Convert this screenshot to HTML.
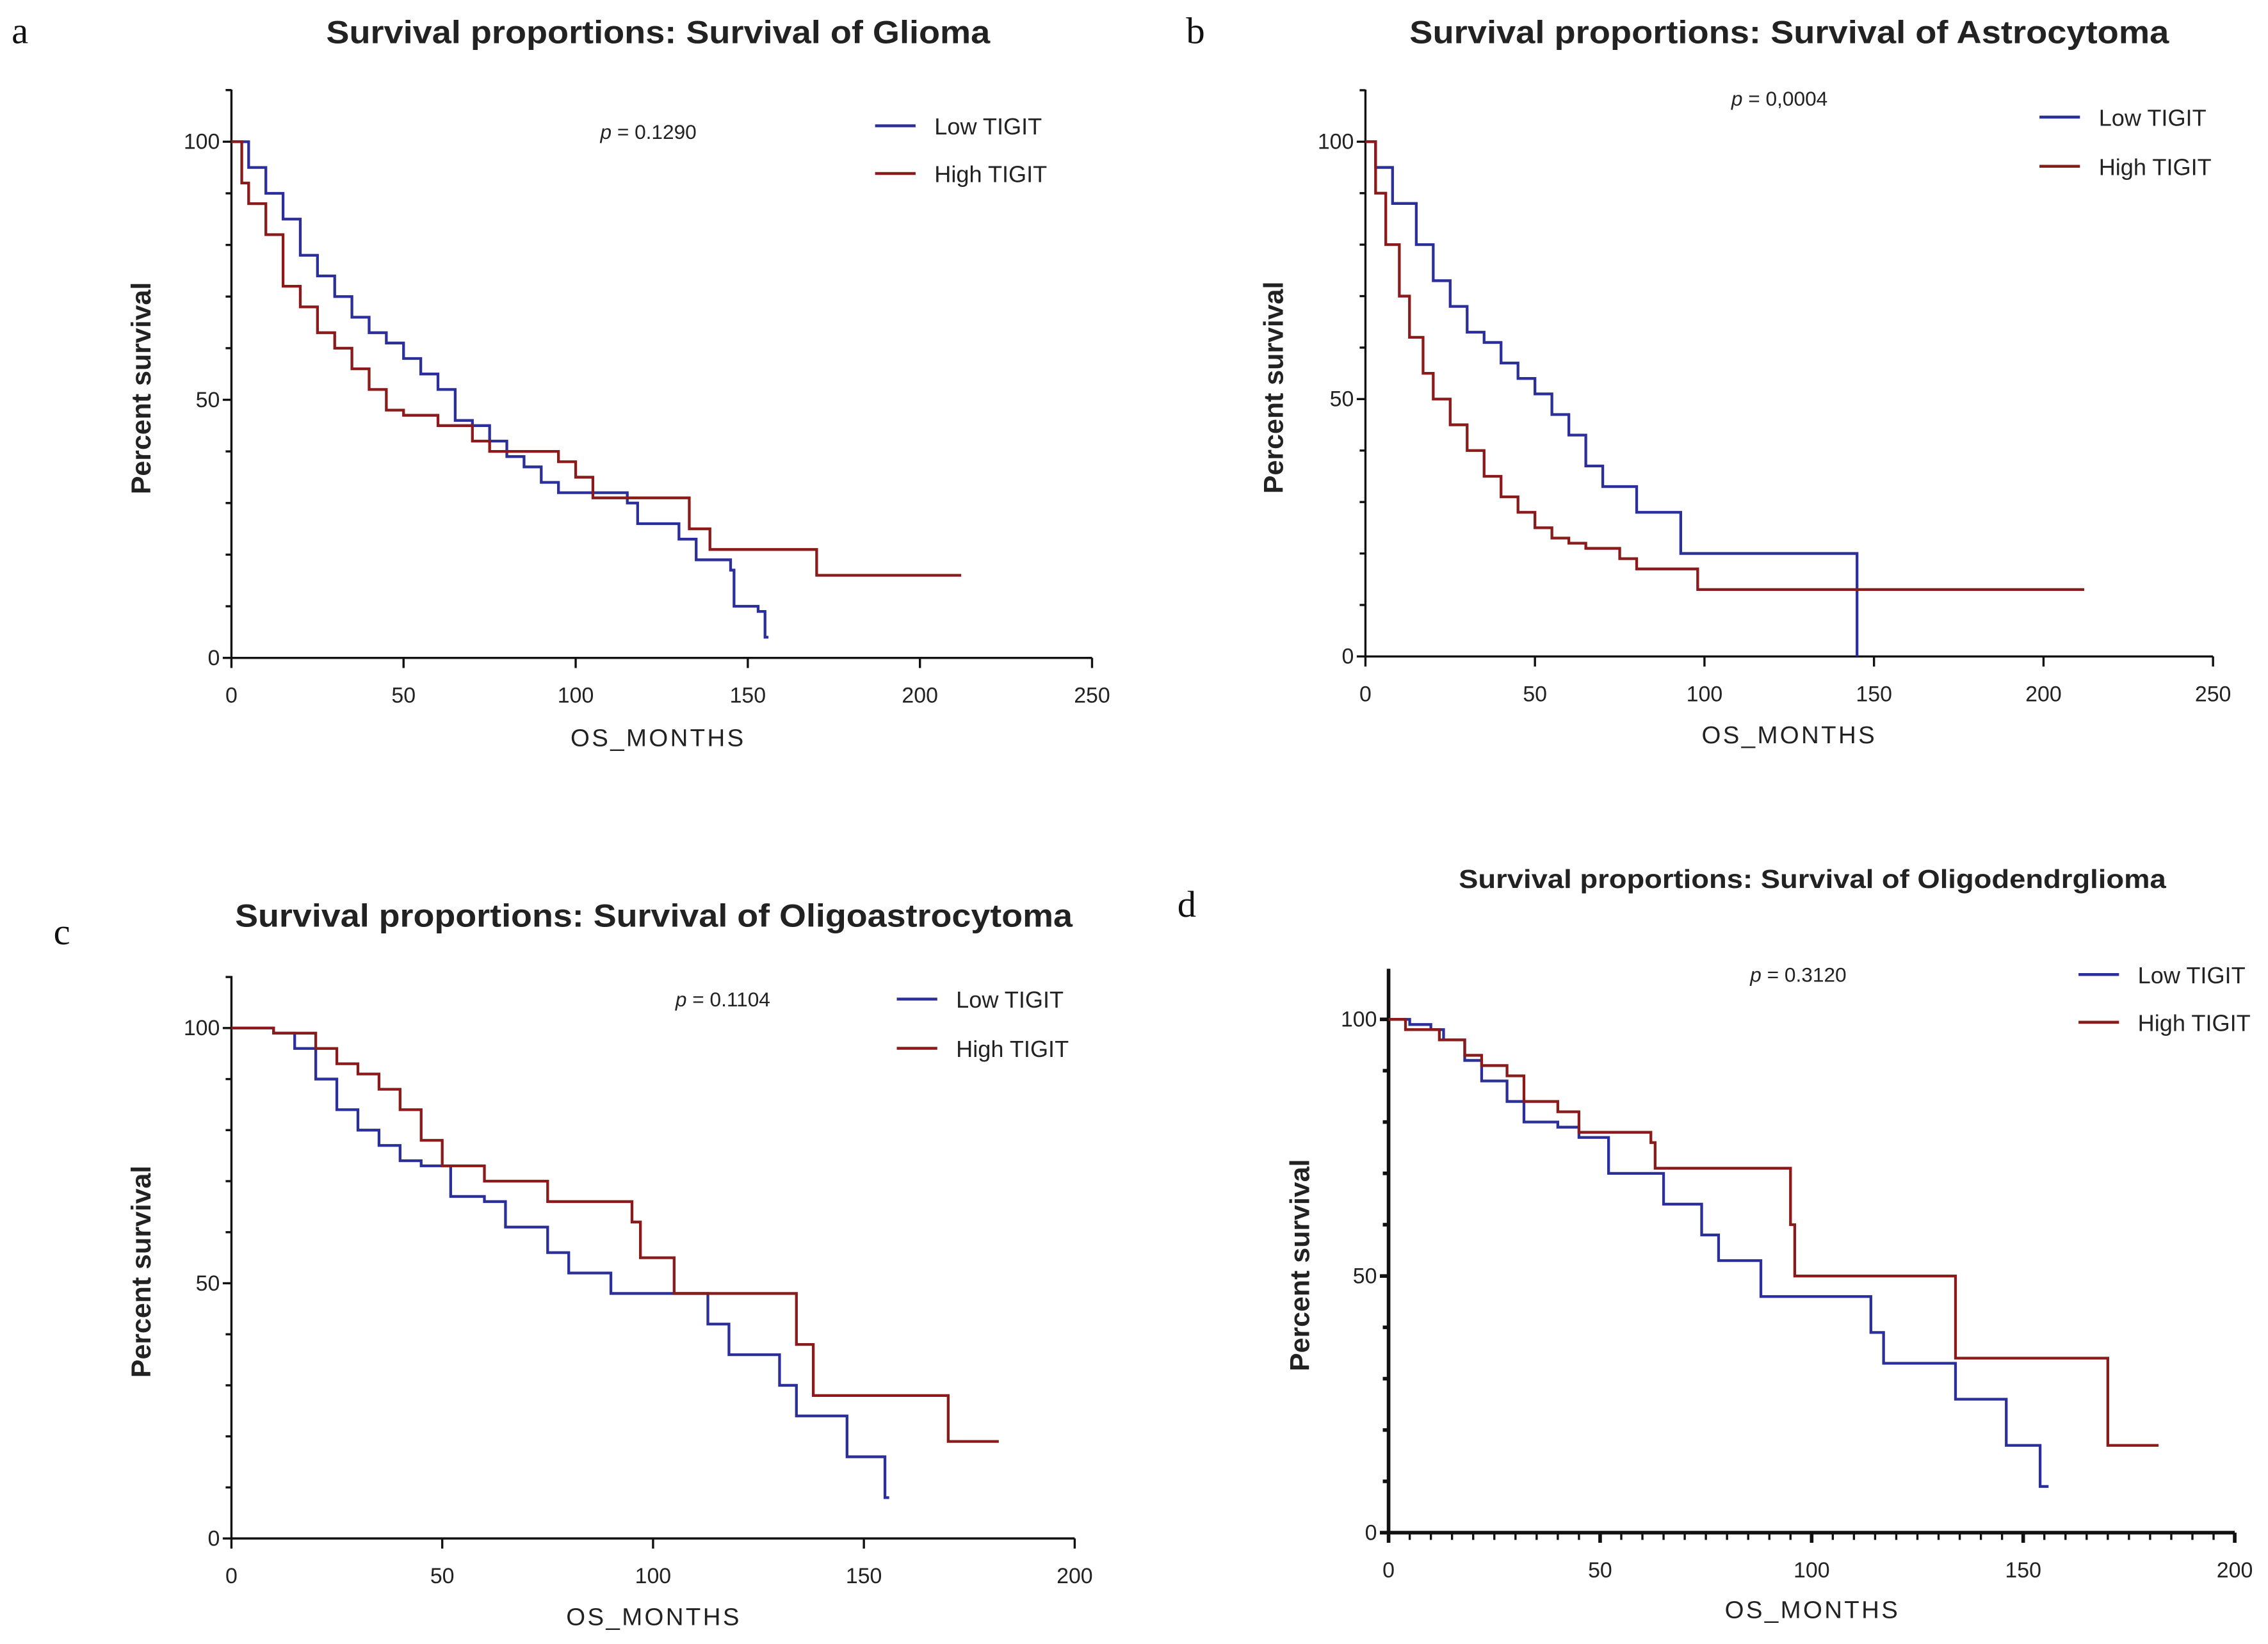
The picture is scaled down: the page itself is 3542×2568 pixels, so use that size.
<!DOCTYPE html>
<html><head><meta charset="utf-8"><style>
html,body{margin:0;padding:0;background:#fff}
svg{display:block}
</style></head><body>
<svg id="fig" width="3542" height="2568" viewBox="0 0 1568 1137" preserveAspectRatio="none" xmlns="http://www.w3.org/2000/svg"></svg>
<script>
// ---- data ----
const panelA_low = [[0,100],[5,95],[10,90],[15,85],[20,78],[25,74],[30,70],[35,66],[40,63],[45,61],[50,58],[55,55],[60,52],[65,46],[70,45],[75,42],[80,39],[85,37],[90,34],[95,32],[115,30],[118,26],[130,23],[135,19],[145,17],[146,10],[153,9],[155,4],[156,4]];
const panelA_high = [[0,100],[3,92],[5,88],[10,82],[15,72],[20,68],[25,63],[30,60],[35,56],[40,52],[45,48],[50,47],[60,45],[70,42],[75,40],[95,38],[100,35],[105,31],[133,25],[139,21],[170,16],[212,16]];
const panelB_low = [[0,100],[3,95],[8,88],[15,80],[20,73],[25,68],[30,63],[35,61],[40,57],[45,54],[50,51],[55,47],[60,43],[65,37],[70,33],[80,28],[93,20],[145,0],[145,0]];
const panelB_high = [[0,100],[3,90],[6,80],[10,70],[13,62],[17,55],[20,50],[25,45],[30,40],[35,35],[40,31],[45,28],[50,25],[55,23],[60,22],[65,21],[75,19],[80,17],[98,13],[212,13]];
const panelC_low = [[0,100],[10,99],[15,96],[20,90],[25,84],[30,80],[35,77],[40,74],[45,73],[52,67],[60,66],[65,61],[75,56],[80,52],[90,48],[113,42],[118,36],[130,30],[134,24],[146,16],[155,8],[156,8]];
const panelC_high = [[0,100],[10,99],[20,96],[25,93],[30,91],[35,88],[40,84],[45,78],[50,73],[60,70],[75,66],[95,62],[97,55],[105,48],[134,38],[138,28],[170,19],[182,19]];
const panelD_low = [[0,100],[5,99],[10,98],[13,96],[18,92],[22,88],[28,84],[32,80],[40,79],[45,77],[52,70],[65,64],[74,58],[78,53],[88,46],[114,39],[117,33],[134,26],[146,17],[154,9],[156,9]];
const panelD_high = [[0,100],[4,98],[12,96],[18,93],[22,91],[28,89],[32,84],[40,82],[45,78],[62,76],[63,71],[95,60],[96,50],[134,34],[170,17],[182,17]];
const xTicks250 = [0,50,100,150,200,250];
const xTicks200 = [0,50,100,150,200];
const yTicks = [0,50,100];
const titles = ["Survival proportions: Survival of Glioma","Survival proportions: Survival of Astrocytoma","Survival proportions: Survival of Oligoastrocytoma","Survival proportions: Survival of Oligodendrglioma"];
const pvals = ["0.1290","0,0004","0.1104","0.3120"];
const legendLabels = ["Low TIGIT","High TIGIT"];

const NS="http://www.w3.org/2000/svg";
const svg=document.getElementById('fig');
function mk(tag,attrs,parent){const e=document.createElementNS(NS,tag);for(const k in attrs)e.setAttribute(k,attrs[k]);(parent||svg).appendChild(e);return e;}

const panels=[
 {id:'a',x0:160,x1:755,y0:455,y100:98,top:62,xmax:250,xt:xTicks250,low:panelA_low,high:panelA_high,tx:455,ty:30,ts:22,tw:459,lx:8,ly:30,legx:605,leg1:87,leg2:120,px:415,py:96,xlx:455,xly:516,ylx:104,aw:1.5,minorX:false},
 {id:'b',x0:944,x1:1530,y0:454,y100:98,top:62,xmax:250,xt:xTicks250,low:panelB_low,high:panelB_high,tx:1237,ty:30,ts:22,tw:525,lx:820,ly:30,legx:1410,leg1:81,leg2:115,px:1197,py:73,xlx:1237,xly:514,ylx:887,aw:1.5,minorX:false},
 {id:'c',x0:160,x1:743,y0:1064,y100:711,top:675,xmax:200,xt:xTicks200,low:panelC_low,high:panelC_high,tx:452,ty:641,ts:22,tw:579,lx:37,ly:653,legx:620,leg1:691,leg2:725,px:467,py:696,xlx:452,xly:1124,ylx:104,aw:1.5,minorX:false},
 {id:'d',x0:960,x1:1545,y0:1060,y100:705,top:670,xmax:200,xt:xTicks200,low:panelD_low,high:panelD_high,tx:1253,ty:614,ts:18,tw:489,lx:814,ly:634,legx:1437,leg1:674,leg2:707,px:1210,py:679,xlx:1253,xly:1119,ylx:905,aw:2.5,minorX:true}
];

panels.forEach((p,i)=>{
 const g=mk('g',{});
 
 
 const X=v=>p.x0+(p.x1-p.x0)*v/p.xmax;
 const Y=v=>p.y0+(p.y100-p.y0)*v/100;
 const lt=mk('text',{x:p.lx,y:p.ly,'font-family':'Liberation Serif, serif','font-size':26,fill:'#111'},g);lt.textContent=p.id;
 
 const t=mk('text',{x:p.tx-p.tw/2,y:p.ty,textLength:p.tw,lengthAdjust:'spacingAndGlyphs','font-family':'Liberation Sans, sans-serif','font-weight':'bold','font-size':p.ts,fill:'#222'},g);t.textContent=titles[i];
 
 const ya=mk('line',{x1:p.x0,y1:p.y0,x2:p.x0,y2:p.top,stroke:'#111','stroke-width':p.aw},g);
 
 const xa=mk('line',{x1:p.x0,y1:p.y0,x2:p.x1,y2:p.y0,stroke:'#111','stroke-width':p.aw},g);
 
 for(let v=0;v<=110;v+=10){const yy=Y(v);if(yy<p.top)break;const major=yTicks.includes(v);mk('line',{x1:p.x0-(major?6:4),y1:yy,x2:p.x0,y2:yy,stroke:'#111','stroke-width':p.aw},g);}
 yTicks.forEach(v=>{const e=mk('text',{x:p.x0-8,y:Y(v)+5,'text-anchor':'end','font-family':'Liberation Sans, sans-serif','font-size':15,fill:'#222'},g);e.textContent=v;
  });
 if(p.minorX){for(let v=0;v<=p.xmax;v+=5)mk('line',{x1:X(v),y1:p.y0,x2:X(v),y2:p.y0+5,stroke:'#111','stroke-width':1.5},g);}
 p.xt.forEach(v=>{mk('line',{x1:X(v),y1:p.y0,x2:X(v),y2:p.y0+7,stroke:'#111','stroke-width':p.aw},g);
  const e=mk('text',{x:X(v),y:p.y0+31,'text-anchor':'middle','font-family':'Liberation Sans, sans-serif','font-size':15,fill:'#222'},g);e.textContent=v;
  });
 const xl=mk('text',{x:p.xlx,y:p.xly,'text-anchor':'middle','font-family':'Liberation Sans, sans-serif','font-size':17,'letter-spacing':'1.5',fill:'#222'},g);xl.textContent='OS_MONTHS';
 
 const ym=(p.y0+p.top)/2+10;
 const yl=mk('text',{x:p.ylx,y:ym,'text-anchor':'middle','font-family':'Liberation Sans, sans-serif','font-weight':'bold','font-size':19,fill:'#222',transform:`rotate(-90 ${p.ylx} ${ym})`},g);yl.textContent='Percent survival';
 
 [[p.low,'#2b2f9a','low'],[p.high,'#8b1a1a','high']].forEach(([d,c,nm])=>{
  let s=`M${X(d[0][0])},${Y(d[0][1])}`;
  for(let k=1;k<d.length;k++){s+=` H${X(d[k][0])} V${Y(d[k][1])}`;}
  const pa=mk('path',{d:s,fill:'none',stroke:c,'stroke-width':1.9},g);
  
 });
 [[p.leg1,'#2b2f9a',0],[p.leg2,'#8b1a1a',1]].forEach(([yy,c,k])=>{
  mk('line',{x1:p.legx,y1:yy,x2:p.legx+28,y2:yy,stroke:c,'stroke-width':2},g);
  const e=mk('text',{x:p.legx+41,y:yy+6,'font-family':'Liberation Sans, sans-serif','font-size':16,fill:'#222'},g);e.textContent=legendLabels[k];
  
 });
 const pt=mk('text',{x:p.px,y:p.py,'font-family':'Liberation Sans, sans-serif','font-size':14,fill:'#222'},g);
 pt.innerHTML='<tspan font-style="italic">p</tspan> = '+pvals[i];
 
});
</script>
</body></html>
